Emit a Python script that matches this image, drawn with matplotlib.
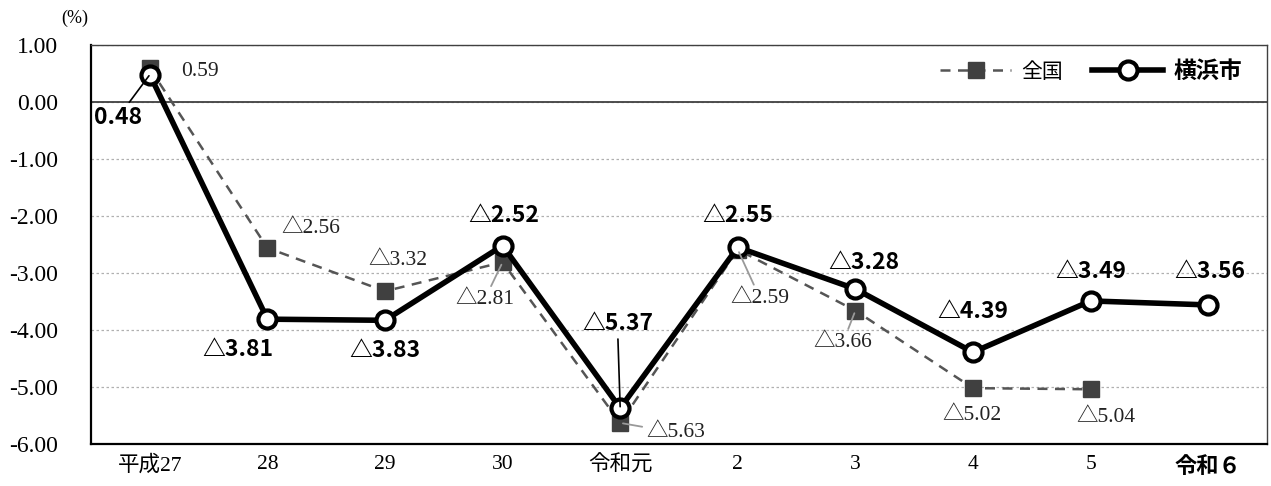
import matplotlib
matplotlib.use("Agg")
import matplotlib.pyplot as plt
import numpy as np

# data
categories = ["平成27", "28", "29", "30", "令和元", "2", "3", "4", "5", "令和６"]
zenkoku = [0.59, -2.56, -3.32, -2.81, -5.63, -2.59, -3.66, -5.02, -5.04, np.nan]
yokohama = [0.48, -3.81, -3.83, -2.52, -5.37, -2.55, -3.28, -4.39, -3.49, -3.56]
y_ticks = [1, 0, -1, -2, -3, -4, -5, -6]

# label offsets in points (dx, dy) and whether a leader line is drawn
zenkoku_off = [(36, -2, False), (31, 14, False), (9, 22, False), (-13, -27, True),
               (40, -7, True), (16, -35, True), (-9, -23, True), (-1, -20, False),
               (11, -20, False), (0, 0, False)]
yokohama_off = [(-23, -31, True), (-21, -22, False), (0, -22, False), (1, 22, False),
                (-2, 61, True), (0, 23, False), (6, 19, False), (0, 29, False),
                (0, 21, False), (1, 24, False)]

serif = ["Liberation Serif", "Noto Sans CJK JP"]
gothic = ["Noto Sans CJK JP", "DejaVu Sans"]


def fmt(v):
    return f"{v:.2f}" if v >= 0 else f"△{abs(v):.2f}"


fig = plt.figure(figsize=(12.71, 4.86), dpi=100)
ax = fig.add_axes([91 / 1271, 42 / 486, 1176 / 1271, 399 / 486])

x = np.arange(len(categories))

ax.plot(x, zenkoku, linestyle=(0, (4, 3)), color="#555555", lw=1.8,
        marker="s", markersize=11, markerfacecolor="#404040",
        markeredgecolor="#404040", label="全国", zorder=3)
ax.plot(x, yokohama, color="black", lw=4, marker="o", markersize=13,
        markerfacecolor="white", markeredgecolor="black", markeredgewidth=3,
        label="横浜市", zorder=4)

for i, v in enumerate(zenkoku):
    if np.isnan(v):
        continue
    dx, dy, lead = zenkoku_off[i]
    ax.annotate(fmt(v), xy=(i, v), xytext=(dx, dy), textcoords="offset points",
                ha="center", va="center", fontsize=15.5, family=serif, color="#222222",
                arrowprops=dict(arrowstyle="-", color="#999999", lw=1.3,
                                shrinkA=1, shrinkB=2) if lead else None,
                zorder=5)

for i, v in enumerate(yokohama):
    dx, dy, lead = yokohama_off[i]
    ax.annotate(fmt(v), xy=(i, v), xytext=(dx, dy), textcoords="offset points",
                ha="center", va="center", fontsize=16.5, family=gothic,
                fontweight="bold", color="black",
                arrowprops=dict(arrowstyle="-", color="black", lw=1.2,
                                shrinkA=1, shrinkB=1) if lead else None,
                zorder=5)

ax.set_xlim(-0.5, len(categories) - 0.5)
ax.set_ylim(-6, 1)
ax.set_yticks(y_ticks)
ax.set_yticklabels([f"{t:.2f}" for t in y_ticks], family=serif, fontsize=17)
ax.set_xticks(x)
ax.set_xticklabels(categories, family=serif, fontsize=15.5)
lbls = ax.get_xticklabels()
lbls[-1].set_family(gothic)
lbls[-1].set_fontweight("bold")
lbls[-1].set_fontsize(16)
ax.tick_params(axis="y", length=0, pad=24)
ax.tick_params(axis="x", length=0, pad=8)

ax.yaxis.grid(True, linestyle=(0, (2, 2)), color="#b0b0b0", lw=0.9)
ax.set_axisbelow(True)
ax.axhline(0, color="#404040", lw=1.3, zorder=2)

for s in ["left", "bottom"]:
    ax.spines[s].set_linewidth(1.6)
    ax.spines[s].set_color("black")
for s in ["top", "right"]:
    ax.spines[s].set_linewidth(1.0)
    ax.spines[s].set_color("#404040")

leg = ax.legend(loc="upper right", ncol=2, frameon=False, fontsize=15,
                handlelength=3.4, columnspacing=1.4, handletextpad=0.5,
                bbox_to_anchor=(0.995, 1.01))
leg.get_texts()[0].set_family(serif)
leg.get_texts()[1].set_family(gothic)
leg.get_texts()[1].set_fontweight("bold")
leg.get_texts()[1].set_fontsize(16.5)

fig.text(75 / 1271, 1 - 18 / 486, "(%)", ha="center", va="center",
         fontsize=13, family=serif)

fig.savefig("out.png", dpi=100)
